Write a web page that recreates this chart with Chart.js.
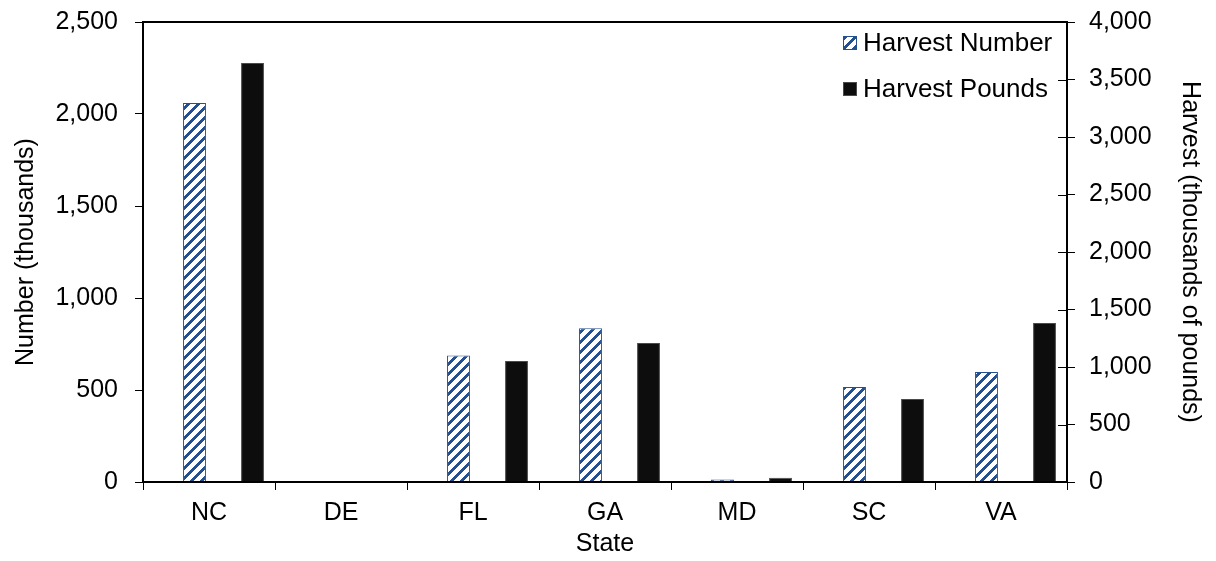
<!DOCTYPE html>
<html lang="en">
<head>
  <meta charset="UTF-8">
  <title>Harvest by State</title>
  <script src="https://cdn.jsdelivr.net/npm/chart.js@4.4.0/dist/chart.umd.min.js"></script>
  <style>
    html, body { margin: 0; padding: 0; background: #fff; }
    #wrap { width: 1216px; height: 561px; position: relative; }
  </style>
</head>
<body>
  <div id="wrap"><canvas id="harvestChart"></canvas></div>

  <script>
    // Data
    const states = ['NC', 'DE', 'FL', 'GA', 'MD', 'SC', 'VA'];
    const harvestNumber = [2060, 3, 687, 835, 14, 516, 598];     // thousands of fish
    const harvestPounds = [3643, 8, 1052, 1209, 38, 722, 1383];  // thousands of pounds
    const numberAxisMax = 2500;
    const poundsAxisMax = 4000;
    const tickStep = 500;

    // empty series, only used to reserve slots so the two bars sit off-centre like Excel
    const spacer = states.map(() => null);

    const FONT = 'Arial, "Liberation Sans", sans-serif';
    const BLUE = '#24508f';

    Chart.defaults.font.family = FONT;
    Chart.defaults.font.size = 25;
    Chart.defaults.color = '#000';

    // "wide upward diagonal" fill (Excel's 8px tile, scaled up a bit)
    function makeHatch() {
      const n = 10;
      const c = document.createElement('canvas');
      c.width = n; c.height = n;
      const g = c.getContext('2d');
      g.fillStyle = '#fff';
      g.fillRect(0, 0, n, n);
      g.fillStyle = BLUE;
      for (let y = 0; y < n; y++) {
        for (let x = 0; x < n; x++) {
          if ((x + y) % n < 4) g.fillRect(x, y, 1, 1);
        }
      }
      return g.createPattern(c, 'repeat');
    }
    const hatch = makeHatch();

    // box around the plot + the inner half of the secondary axis tick marks
    const framePlugin = {
      id: 'frame',
      afterDraw(chart) {
        const { ctx, chartArea: a } = chart;
        ctx.save();
        ctx.strokeStyle = '#000';
        ctx.lineWidth = 2;
        ctx.strokeRect(a.left, a.top, a.right - a.left, a.bottom - a.top);
        const y1 = chart.scales.y1;
        ctx.lineWidth = 1;
        ctx.beginPath();
        y1.ticks.forEach((t, i) => {
          const py = Math.round(y1.getPixelForTick(i)) + 0.5;
          ctx.moveTo(a.right - 9, py);
          ctx.lineTo(a.right, py);
        });
        ctx.stroke();
        ctx.restore();
      }
    };

    // legend sits inside the plot, top right, no box
    const legendPlugin = {
      id: 'insideLegend',
      afterDraw(chart) {
        const { ctx, chartArea: a } = chart;
        const rows = chart.data.datasets.filter(d => d.label);
        ctx.save();
        ctx.font = '26px ' + FONT;
        ctx.textBaseline = 'middle';
        ctx.textAlign = 'left';
        rows.forEach((ds, i) => {
          const x = a.right - 224;
          const cy = a.top + 21 + i * 46;
          ctx.fillStyle = ds.backgroundColor;
          ctx.fillRect(x, cy - 7, 14, 14);
          ctx.strokeStyle = ds.borderColor;
          ctx.lineWidth = 1;
          ctx.strokeRect(x + 0.5, cy - 6.5, 13, 13);
          ctx.fillStyle = '#000';
          ctx.fillText(ds.label, x + 20, cy + 1);
        });
        ctx.restore();
      }
    };

    const tickGrid = { drawOnChartArea: false, drawTicks: true, tickLength: 8, color: '#000', lineWidth: 1 };

    // fixed axis sizes so the plot box lands where the original has it
    function fixWidth(w) {
      return s => { s.width = w; s.paddingTop = 0; s.paddingBottom = 0; };
    }

    new Chart(document.getElementById('harvestChart'), {
      type: 'bar',
      data: {
        labels: states,
        datasets: [
          { label: '', data: spacer, yAxisID: 'y', backgroundColor: 'rgba(0,0,0,0)', borderWidth: 0 },
          { label: 'Harvest Number', data: harvestNumber, yAxisID: 'y',
            backgroundColor: hatch, borderColor: BLUE, borderWidth: 1 },
          { label: '', data: spacer, yAxisID: 'y1', backgroundColor: 'rgba(0,0,0,0)', borderWidth: 0 },
          { label: 'Harvest Pounds', data: harvestPounds, yAxisID: 'y1',
            backgroundColor: '#0d0d0d', borderColor: '#4a4a4a', borderWidth: 1 }
        ]
      },
      options: {
        responsive: true,
        maintainAspectRatio: false,
        animation: false,
        categoryPercentage: 0.879,
        barPercentage: 0.79,
        layout: { padding: { top: 22, left: 0, right: 0, bottom: 0 } },
        plugins: {
          legend: { display: false },
          tooltip: { enabled: false }
        },
        scales: {
          x: {
            offset: true,
            grid: { ...tickGrid, offset: true },
            border: { display: false },
            ticks: { padding: 8, maxRotation: 0, autoSkip: false },
            title: { display: true, text: 'State', padding: { top: 0, bottom: 2 } },
            afterFit: s => { s.height = 79; s.paddingLeft = 0; s.paddingRight = 0; }
          },
          y: {
            position: 'left',
            min: 0,
            max: numberAxisMax,
            grid: tickGrid,
            border: { display: false },
            ticks: { stepSize: tickStep, padding: 17 },
            title: { display: true, text: 'Number (thousands)', padding: { top: 11, bottom: 0 } },
            afterFit: fixWidth(143)
          },
          y1: {
            position: 'right',
            min: 0,
            max: poundsAxisMax,
            grid: tickGrid,
            border: { display: false },
            ticks: { stepSize: tickStep, padding: 14 },
            title: { display: true, text: 'Harvest (thousands of pounds)', padding: { top: 11, bottom: 0 } },
            afterFit: fixWidth(149)
          }
        }
      },
      plugins: [framePlugin, legendPlugin]
    });
  </script>
</body>
</html>
